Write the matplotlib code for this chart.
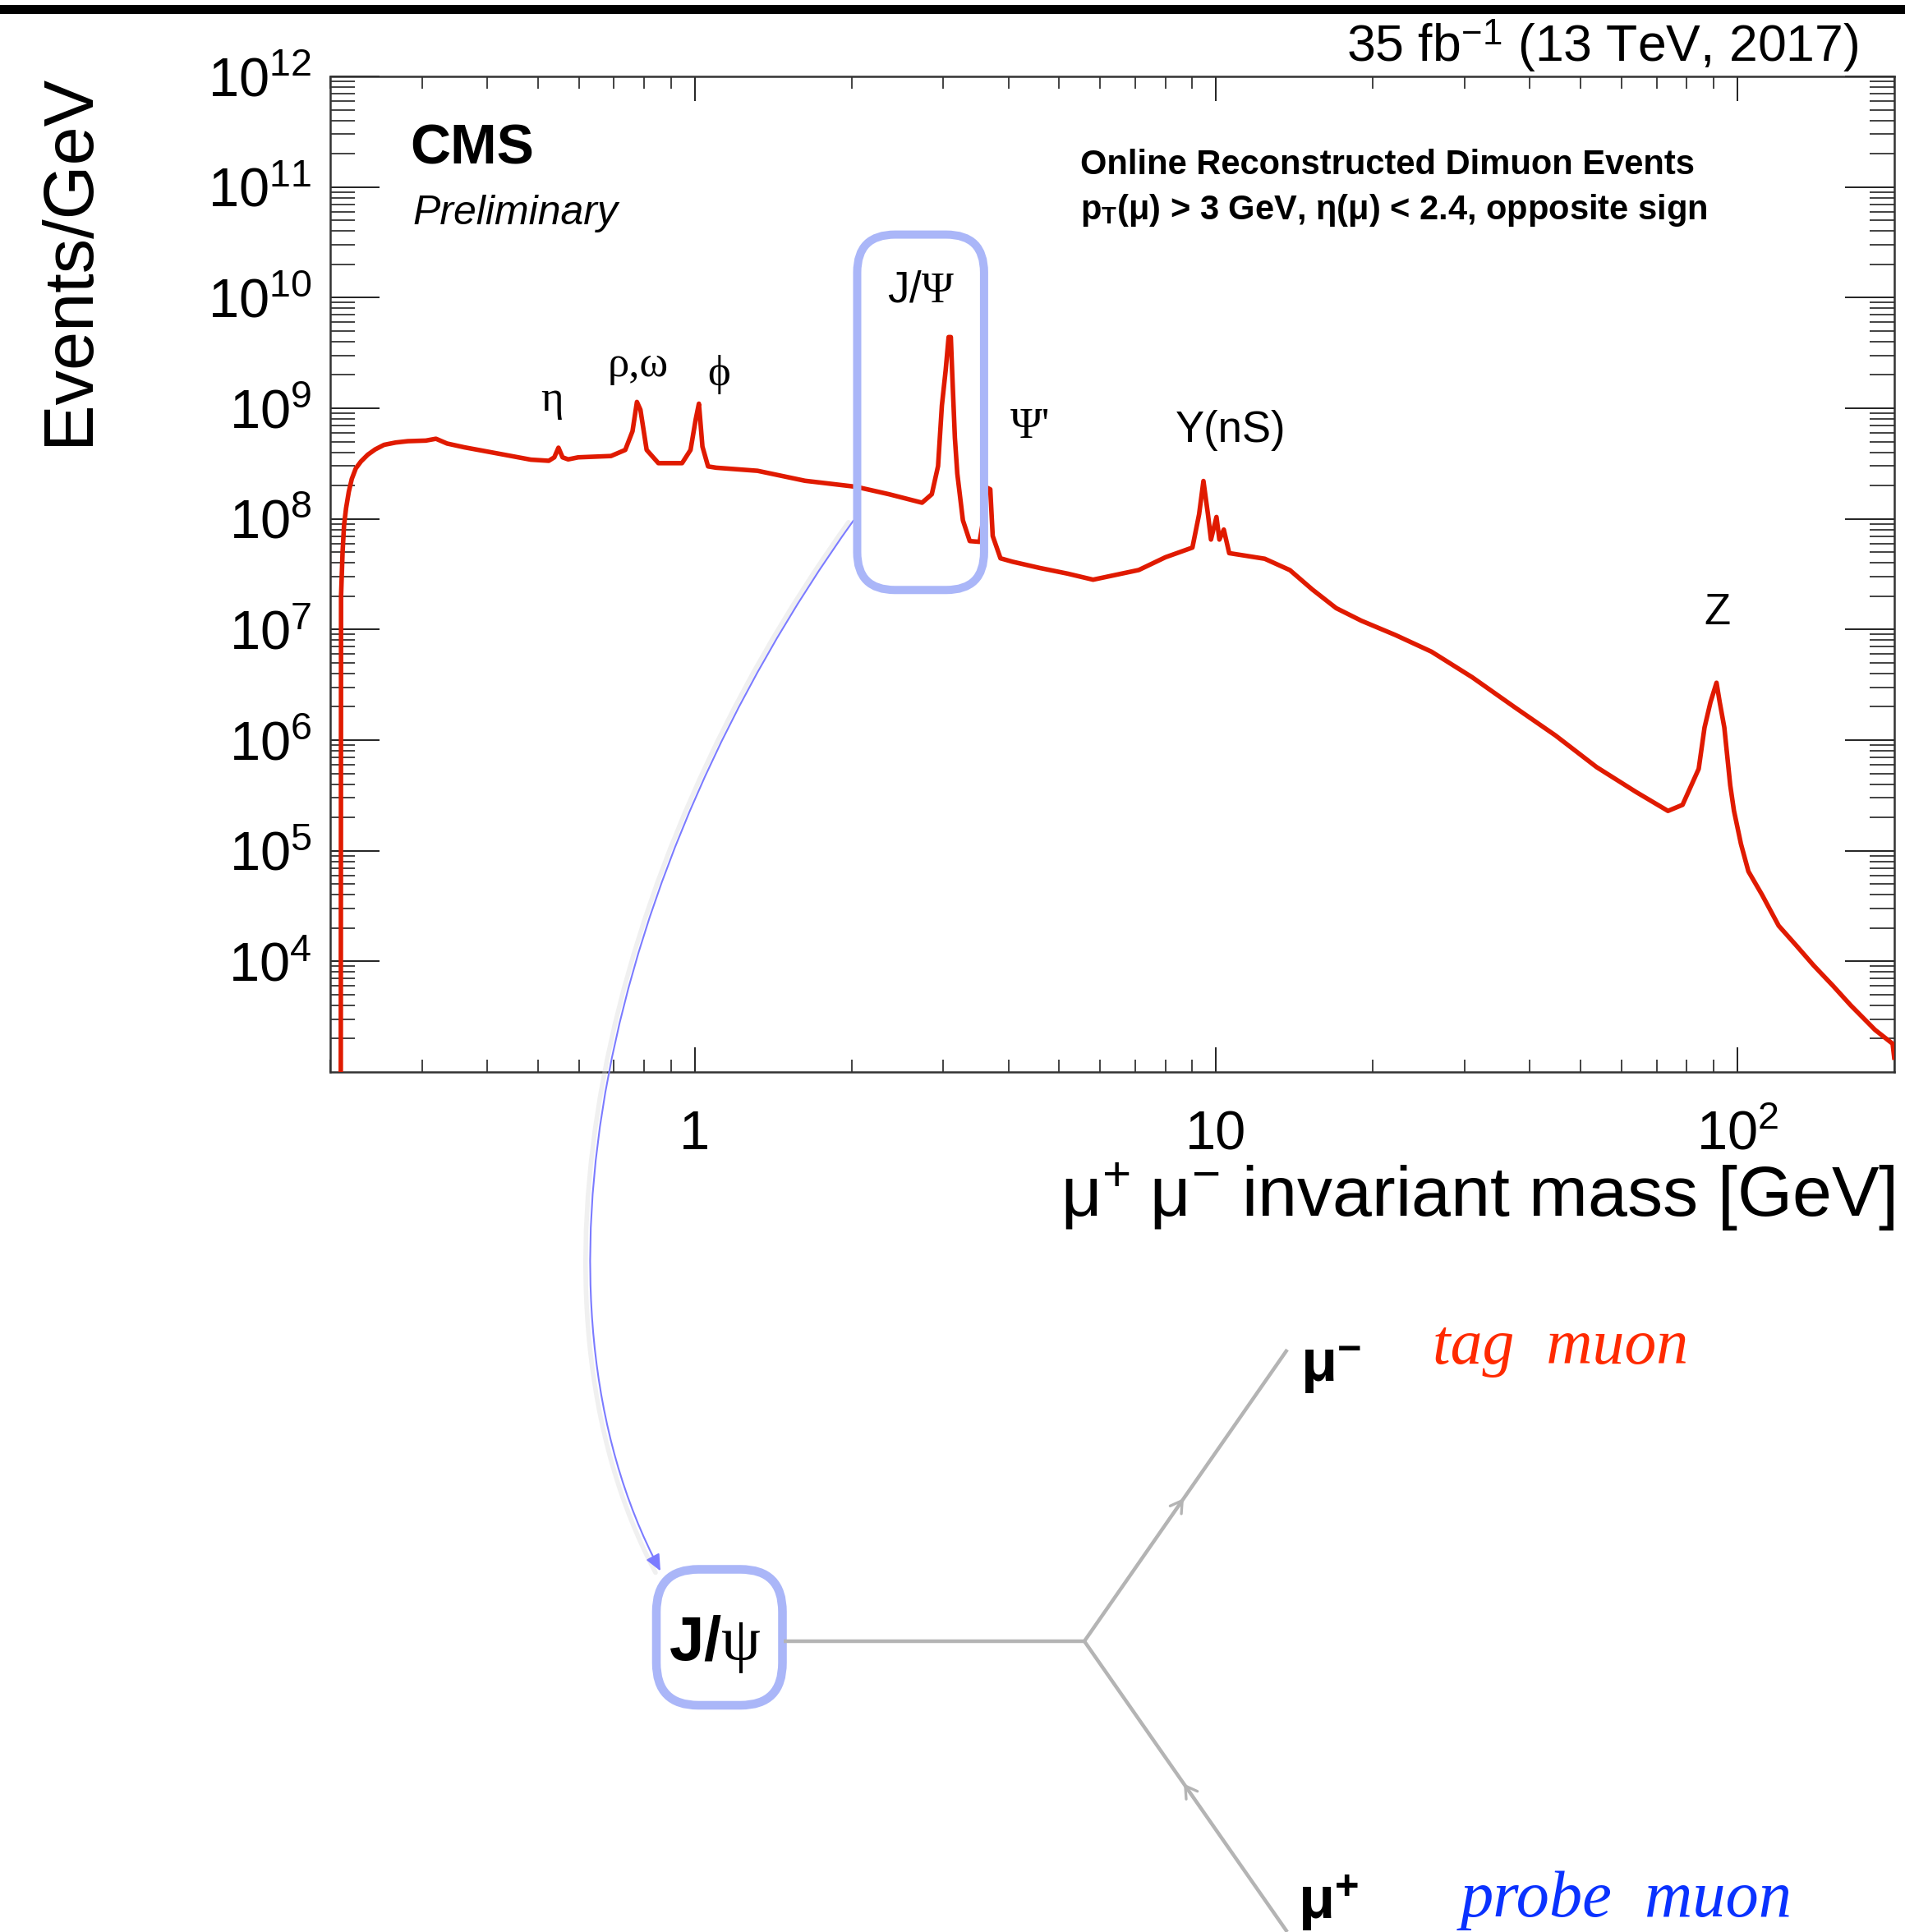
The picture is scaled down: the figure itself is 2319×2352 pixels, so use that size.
import matplotlib
matplotlib.use("Agg")
import matplotlib.pyplot as plt
import matplotlib.transforms as mtransforms
from matplotlib.patches import FancyBboxPatch, FancyArrowPatch, Rectangle
from matplotlib.path import Path
from matplotlib.lines import Line2D
from matplotlib.ticker import LogLocator, NullFormatter

plt.rcParams['font.family'] = ['Liberation Sans', 'DejaVu Sans']
plt.rcParams['mathtext.fontset'] = 'custom'
plt.rcParams['mathtext.rm'] = 'Liberation Serif'
plt.rcParams['mathtext.it'] = 'Liberation Serif:italic'
plt.rcParams['mathtext.bf'] = 'Liberation Sans:bold'

# dimuon invariant mass spectrum (GeV) and events/GeV
mass = [0.200, 0.2095, 0.2098, 0.2112, 0.2126, 0.2145, 0.2171, 0.2200, 0.2239, 0.229,
        0.236, 0.244, 0.2537, 0.267, 0.2818, 0.305, 0.319, 0.335, 0.362, 0.419,
        0.485, 0.525, 0.538, 0.548, 0.558, 0.572, 0.598, 0.691, 0.736, 0.760,
        0.775, 0.787, 0.809, 0.852, 0.946, 0.982, 1.005, 1.019, 1.035, 1.061,
        1.10, 1.228, 1.32, 1.628, 1.741, 2.04, 2.36, 2.73, 2.85, 2.93,
        2.98, 3.03, 3.07, 3.10, 3.12, 3.156, 3.19, 3.27, 3.37, 3.52,
        3.58, 3.63, 3.69, 3.73, 3.86, 4.07, 4.59, 5.19, 5.81, 7.11,
        8.0, 9.01, 9.28, 9.46, 9.65, 9.78, 10.02, 10.15, 10.35, 10.6,
        12.4, 13.86, 15.3, 17.0, 19.0, 22.1, 25.9, 31.0, 37.3, 44.8,
        53.7, 63.9, 73.6, 78.5, 84.3, 86.5, 88.8, 91.2, 92.5, 94.4,
        96.9, 98.5, 101.6, 105.0, 111.5, 120.0, 129.9, 140.0, 152.6, 165.0,
        183.7, 198.5, 199.9]
events = [1e2, 1e2, 2.0e7, 5.0e7, 8.8e7, 1.25e8, 1.76e8, 2.3e8, 2.86e8, 3.3e8,
          3.8e8, 4.25e8, 4.67e8, 4.9e8, 5.04e8, 5.1e8, 5.3e8, 4.8e8, 4.43e8, 3.9e8,
          3.43e8, 3.35e8, 3.6e8, 4.4e8, 3.6e8, 3.45e8, 3.6e8, 3.7e8, 4.2e8, 6.2e8,
          1.14e9, 9.7e8, 4.2e8, 3.19e8, 3.19e8, 4.2e8, 8.0e8, 1.1e9, 4.5e8, 2.98e8,
          2.9e8, 2.79e8, 2.72e8, 2.21e8, 2.13e8, 1.95e8, 1.67e8, 1.40e8, 1.67e8, 3.0e8,
          1.06e9, 2.2e9, 4.4e9, 4.4e9, 2.0e9, 5.4e8, 2.56e8, 9.7e7, 6.3e7, 6.2e7,
          1.0e8, 1.92e8, 1.85e8, 7.0e7, 4.4e7, 4.1e7, 3.6e7, 3.2e7, 2.82e7, 3.45e7,
          4.5e7, 5.5e7, 1.1e8, 2.2e8, 1.1e8, 6.5e7, 1.04e8, 6.5e7, 8.0e7, 4.9e7,
          4.36e7, 3.44e7, 2.3e7, 1.56e7, 1.2e7, 8.9e6, 6.3e6, 3.7e6, 2.0e6, 1.1e6,
          5.7e5, 3.4e5, 2.29e5, 2.6e5, 5.5e5, 1.3e6, 2.2e6, 3.3e6, 2.2e6, 1.3e6,
          3.9e5, 2.3e5, 1.15e5, 6.5e4, 4.0e4, 2.1e4, 1.38e4, 9.2e3, 6.0e3, 4.0e3,
          2.4e3, 1.8e3, 1.35e3]

# resonance labels (text anchored at baseline)
peak_labels = ['η', 'ρ,ω', 'ϕ', r'J/$\Psi$', "Ψ'", 'Y(nS)', 'Z']
peak_label_mass = [0.532, 0.780, 1.113, 2.719, 4.395, 10.68, 91.5]
peak_label_events = [10**8.977, 10**9.292, 10**9.207, 10**9.961, 10**8.732, 10**8.694, 10**7.045]
peak_label_serif = [True, True, True, False, True, False, False]

x_ticks = [1, 10, 100]
x_tick_labels = ['1', '10', r'$\mathdefault{10^{2}}$']
y_ticks = [1e4, 1e5, 1e6, 1e7, 1e8, 1e9, 1e10, 1e11, 1e12]
y_tick_labels = [r'$\mathdefault{10^{4}}$', r'$\mathdefault{10^{5}}$', r'$\mathdefault{10^{6}}$',
                 r'$\mathdefault{10^{7}}$', r'$\mathdefault{10^{8}}$', r'$\mathdefault{10^{9}}$',
                 r'$\mathdefault{10^{10}}$', r'$\mathdefault{10^{11}}$', r'$\mathdefault{10^{12}}$']

# J/psi mass window highlighted on the spectrum
jpsi_window_mass = (2.05, 3.59)
jpsi_window_events = (10**7.357, 10**10.57)

W_PX, H_PX = 2319, 2352


def fxy(x_px, y_px):
    return x_px / W_PX, 1 - y_px / H_PX


fig = plt.figure(figsize=(W_PX / 100, H_PX / 100), dpi=100)
ax = fig.add_axes([402 / W_PX, 1 - 1305 / H_PX, 1904 / W_PX, 1212 / H_PX])

ax.plot(mass, events, color='#e01a00', lw=4.0, zorder=3)

ax.set_xscale('log')
ax.set_yscale('log')
ax.set_xlim(0.2, 200)
ax.set_ylim(1e3, 1e12)

ax.set_xticks(x_ticks, labels=x_tick_labels)
ax.set_yticks(y_ticks, labels=y_tick_labels)
ax.xaxis.set_minor_locator(LogLocator(base=10, subs=range(2, 10), numticks=20))
ax.yaxis.set_minor_locator(LogLocator(base=10, subs=range(2, 10), numticks=20))
ax.xaxis.set_minor_formatter(NullFormatter())
ax.yaxis.set_minor_formatter(NullFormatter())

ax.tick_params(which='both', direction='in', top=True, right=True, color='#222222')
ax.tick_params(axis='y', which='major', length=43, width=1.4, pad=16, labelsize=48)
ax.tick_params(axis='y', which='minor', length=21.6, width=1.2)
ax.tick_params(axis='x', which='major', length=21.6, width=1.4, pad=68, labelsize=48)
ax.tick_params(axis='x', which='minor', length=10.8, width=1.2)
for lab in ax.get_xticklabels():
    lab.set_verticalalignment('baseline')
for sp in ax.spines.values():
    sp.set_linewidth(1.8)
    sp.set_color('#333333')

for text, m, n, serif in zip(peak_labels, peak_label_mass, peak_label_events, peak_label_serif):
    fam = ['Liberation Serif', 'DejaVu Serif'] if serif else ['Liberation Sans', 'DejaVu Sans']
    ax.text(m, n, text, ha='center', va='baseline', fontsize=38, family=fam, zorder=4)

# axis titles
fig.text(*fxy(2307, 1481), r'$\mathregular{\mu^{+}\ \mu^{-}}$ invariant mass [GeV]',
         ha='right', va='baseline', fontsize=62)
fig.text(*fxy(85, 90), 'Events/GeV', rotation=90, ha='center', va='top', fontsize=61)

# CMS labels
fig.text(*fxy(499, 199), 'CMS', fontsize=49, fontweight='bold', va='baseline')
fig.text(*fxy(502, 273), 'Preliminary', fontsize=36, style='italic', va='baseline')
fig.text(*fxy(1315, 212), 'Online Reconstructed Dimuon Events', fontsize=30,
         fontweight='bold', va='baseline')
fig.text(*fxy(1315, 267), r'p$_{\mathbf{T}}$(μ) > 3 GeV, η(μ) < 2.4, opposite sign',
         fontsize=30, fontweight='bold', va='baseline')
fig.text(*fxy(2262, 75), r'35 fb$^{\mathregular{-1}}$ (13 TeV, 2017)', fontsize=45,
         ha='right', va='baseline')

# heavy rule along the top edge
fig.add_artist(Rectangle(fxy(0, 17), 1, 11 / H_PX, transform=fig.transFigure,
                         color='black', lw=0))

box_color = '#aab6f8'
ident = mtransforms.IdentityTransform()
(bx0, by0) = ax.transData.transform((jpsi_window_mass[0], jpsi_window_events[0]))
(bx1, by1) = ax.transData.transform((jpsi_window_mass[1], jpsi_window_events[1]))
fig.add_artist(FancyBboxPatch((bx0, by0), bx1 - bx0, by1 - by0,
                              boxstyle='round,pad=0,rounding_size=46', transform=ident,
                              fill=False, ec=box_color, lw=7.2, zorder=5))

# curved pointer from the mass window down to the decay diagram
curve_px = [(1038.9, 633.75), (733.35, 1060.5), (628.1, 1581.4), (804, 1912.5)]
curve_codes = [Path.MOVETO, Path.CURVE4, Path.CURVE4, Path.CURVE4]
shadow = Path([fxy(x - 6, y + 2) for x, y in curve_px], curve_codes)
fig.add_artist(FancyArrowPatch(path=shadow, arrowstyle='-', transform=fig.transFigure,
                               color='#d4d4d4', lw=4, alpha=0.35))
pointer = Path([fxy(x, y) for x, y in curve_px], curve_codes)
fig.add_artist(FancyArrowPatch(path=pointer, arrowstyle='-|>,head_length=0.6,head_width=0.27',
                               mutation_scale=20, transform=fig.transFigure,
                               color='#7b7bff', lw=1.5))

# decay diagram J/psi -> mu+ mu-
x0, y0 = fxy(799, 2076)
x1, y1 = fxy(952.5, 1910.5)
fig.add_artist(FancyBboxPatch((x0, y0), x1 - x0, y1 - y0,
                              boxstyle='round,pad=0,rounding_size=0.022',
                              transform=fig.transFigure, fill=False, ec=box_color, lw=7.6))
fig.text(*fxy(870, 2021), r'J/$\mathrm{\psi}$', fontsize=55, fontweight='bold',
         ha='center', va='baseline')

line_gray = '#b4b4b4'
vertex = (1320, 1998)
legs = {'in': (954, 1998), 'minus': (1567, 1643), 'plus': (1567, 2352)}
for end in legs.values():
    xa, ya = fxy(*vertex)
    xb, yb = fxy(*end)
    fig.add_artist(Line2D([xa, xb], [ya, yb], transform=fig.transFigure,
                          color=line_gray, lw=3.2, solid_capstyle='butt'))


def along(end, t):
    return (vertex[0] + t * (end[0] - vertex[0]), vertex[1] + t * (end[1] - vertex[1]))


# fermion-flow arrowheads half-way along the muon legs
for start_t, tip_t, key in [(0.40, 0.49, 'minus'), (0.58, 0.49, 'plus')]:
    fig.add_artist(FancyArrowPatch(fxy(*along(legs[key], start_t)), fxy(*along(legs[key], tip_t)),
                                   transform=fig.transFigure,
                                   arrowstyle='->,head_length=0.5,head_width=0.3',
                                   mutation_scale=20, color=line_gray, lw=2.4,
                                   shrinkA=0, shrinkB=0))

fig.text(*fxy(1583, 1682), r'μ$^{\mathregular{-}}$', fontsize=52, fontweight='bold',
         va='baseline')
fig.text(*fxy(1580, 2336), r'μ$^{\mathregular{+}}$', fontsize=52, fontweight='bold',
         va='baseline')
fig.text(*fxy(1744, 1660), 'tag  muon', fontsize=56, style='italic', color='#ff2a00',
         family=['Liberation Serif', 'DejaVu Serif'], va='baseline')
fig.text(*fxy(1778, 2333), 'probe  muon', fontsize=58, style='italic', color='#0a32ff',
         family=['Liberation Serif', 'DejaVu Serif'], va='baseline')

fig.savefig('out.png', dpi=100, facecolor='white')
